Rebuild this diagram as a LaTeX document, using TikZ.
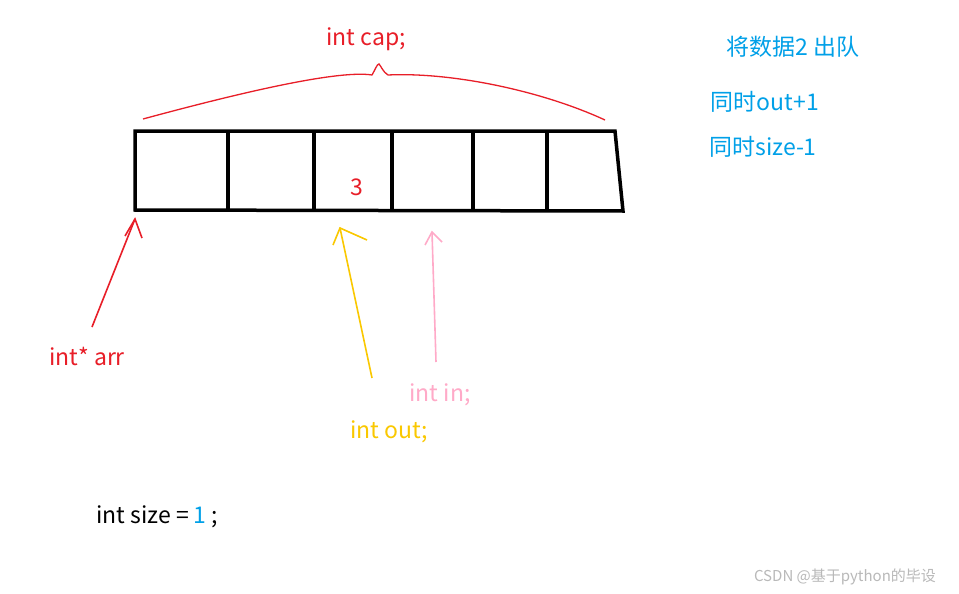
\documentclass[tikz,border=0pt]{standalone}
\usepackage{fontspec}
\setmainfont{Noto Sans CJK SC}
\definecolor{cred}{RGB}{232,30,40}
\definecolor{cyel}{RGB}{250,200,0}
\definecolor{cpink}{RGB}{255,170,200}
\definecolor{cblue}{RGB}{0,160,232}
\begin{document}
\begin{tikzpicture}[x=1pt,y=-1pt,
  box/.style={line width=3.5pt,black},
  lbl/.style={font=\fontsize{23}{27}\selectfont,inner sep=0pt},
  arr/.style={line width=1.6pt}]
\useasboundingbox (0,0) rectangle (959,594);
\fill[white] (0,0) rectangle (959,594);
% array
\coordinate (tl) at (135,131); \coordinate (tr) at (615,131);
\coordinate (bl) at (135,210); \coordinate (br) at (623,211);
\draw[box] (tl) -- (tr) -- (br) -- (bl) -- cycle;
\foreach \x in {228,314,392,473,547}{\draw[box] (\x,131) -- (\x,211);}
\node[lbl,text=cred] (three) at (357,187) {3};
% brace
\draw[cred,line width=1.3pt] (143,119) .. controls (250,90) and (340,70) .. (372,75)
  .. controls (375,70) and (377,64) .. (379,64) .. controls (381,66) and (383,72) .. (388,75)
  .. controls (450,72) and (540,90) .. (605,120);
\node[lbl,text=cred] (cap) at (366,39) {int cap;};
% arr
\node[lbl,text=cred] (arrl) at (87,356) {int* arr};
\coordinate (arrS) at (92,327); \coordinate (arrE) at (135,219);
\draw[cred,arr] (arrS) -- (arrE);
\draw[cred,arr] (125,236) -- (arrE) -- (142,238);
% out
\node[lbl,text=cyel] (outl) at (389,432) {int out;};
\coordinate (outS) at (372,378); \coordinate (outE) at (340,228);
\draw[cyel,arr] (outS) -- (outE);
\draw[cyel,arr] (333,245) -- (outE) -- (367,240);
% in
\node[lbl,text=cpink] (inl) at (440,395) {int in;};
\coordinate (inS) at (436,362); \coordinate (inE) at (432,232);
\draw[cpink,arr] (inS) -- (inE);
\draw[cpink,arr] (425,245) -- (inE) -- (442,242);
% right texts
\node[lbl,text=cblue] (t1) at (793,47) {将数据2 出队};
\node[lbl,text=cblue] (t2) at (765,102) {同时out+1};
\node[lbl,text=cblue] (t3) at (763,147) {同时size-1};
\node[lbl,anchor=west] (sz) at (96,517) {int size = \textcolor{cblue}{1} ;};
\node[font=\fontsize{15}{17}\selectfont,text=gray!55] (wm) at (845,577) {CSDN @基于python的毕设};
\end{tikzpicture}
\end{document}
